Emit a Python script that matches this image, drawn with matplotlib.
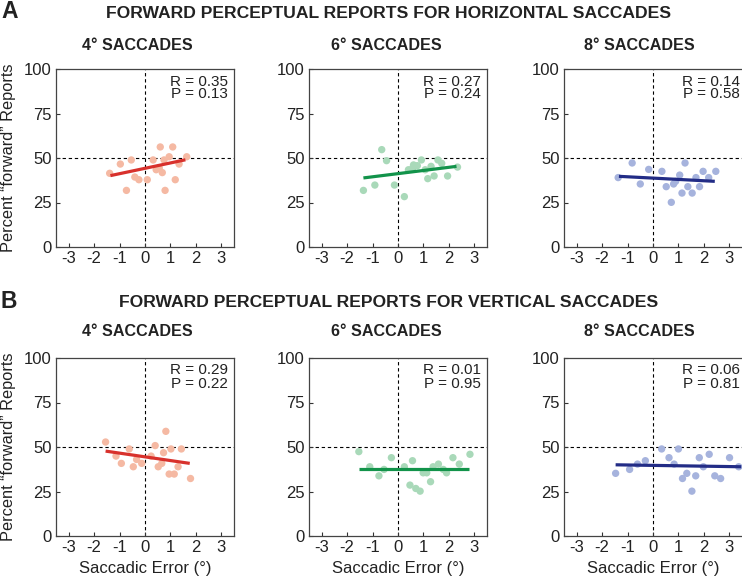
import numpy as np
import matplotlib
matplotlib.use("Agg")
import matplotlib.pyplot as plt

plt.rcParams["font.family"] = ["Liberation Sans", "DejaVu Sans"]
plt.rcParams["axes.unicode_minus"] = False

# saccadic error (deg) and percent "forward" reports
h4_x = [-1.39, -0.97, -0.54, -0.73, -0.40, -0.24, 0.09, 0.32, 0.44, 0.56, 0.60,
        0.68, 0.79, 0.75, 0.95, 1.09, 1.19, 1.34, 1.64]
h4_y = [41.4, 46.6, 48.9, 31.8, 39.3, 37.8, 37.8, 48.9, 43.4, 44.4, 56.2,
        41.8, 31.8, 48.9, 50.7, 56.2, 37.8, 46.6, 50.7]
h6_x = [-1.36, -0.91, -0.64, -0.45, -0.14, 0.25, 0.41, 0.57, 0.61, 0.76, 0.92,
        1.07, 1.17, 1.30, 1.42, 1.57, 1.72, 1.95, 2.34]
h6_y = [31.8, 34.8, 54.7, 48.5, 34.8, 28.3, 43.4, 44.2, 46.1, 45.7, 48.9,
        43.4, 38.4, 45.3, 39.9, 48.9, 47.0, 39.9, 44.9]
h8_x = [-1.37, -0.82, -0.50, -0.17, 0.35, 0.52, 0.72, 0.81, 0.89, 1.05, 1.14,
        1.26, 1.37, 1.54, 1.69, 1.83, 1.97, 2.19, 2.47]
h8_y = [39.0, 47.2, 35.4, 43.6, 42.5, 33.9, 25.1, 35.4, 36.9, 40.4, 30.3,
        47.2, 33.9, 30.3, 39.0, 33.9, 42.5, 39.0, 42.5]
v4_x = [-1.55, -1.14, -0.93, -0.62, -0.46, -0.33, -0.13, 0.24, 0.40, 0.52, 0.66,
        0.82, 0.73, 0.95, 1.02, 1.15, 1.30, 1.43, 1.79]
v4_y = [52.8, 44.9, 40.8, 48.9, 38.9, 43.0, 40.8, 44.9, 50.8, 38.9, 40.8,
        58.8, 46.8, 34.8, 48.9, 34.8, 38.9, 48.9, 32.3]
v6_x = [-1.54, -1.11, -0.75, -0.55, -0.26, 0.25, 0.47, 0.57, 0.70, 0.87, 0.99,
        1.13, 1.28, 1.38, 1.59, 1.78, 1.91, 2.16, 2.41, 2.83]
v6_y = [47.4, 38.9, 33.8, 37.4, 44.0, 38.9, 28.6, 42.3, 26.7, 25.2, 35.5,
        35.5, 30.5, 38.9, 40.4, 37.4, 35.5, 44.0, 40.4, 45.9]
v8_x = [-1.47, -0.92, -0.61, -0.30, 0.34, 0.63, 0.83, 1.00, 1.16, 1.33, 1.53,
        1.68, 1.82, 1.98, 2.21, 2.43, 2.66, 3.01, 3.37]
v8_y = [35.2, 37.4, 40.4, 42.3, 48.9, 44.0, 40.4, 48.9, 32.3, 35.2, 25.2,
        33.8, 44.0, 38.9, 45.9, 33.8, 32.3, 44.0, 38.9]

# regression line end points
h4_fit = ([-1.36, 1.59], [40.1, 49.0])
h6_fit = ([-1.36, 2.30], [38.8, 45.3])
h8_fit = ([-1.34, 2.43], [39.7, 36.9])
v4_fit = ([-1.55, 1.76], [47.7, 40.8])
v6_fit = ([-1.54, 2.80], [37.4, 37.4])
v8_fit = ([-1.47, 3.47], [40.0, 38.9])

stats = [["R = 0.35", "P = 0.13"], ["R = 0.27", "P = 0.24"], ["R = 0.14", "P = 0.58"],
         ["R = 0.29", "P = 0.22"], ["R = 0.01", "P = 0.95"], ["R = 0.06", "P = 0.81"]]
subtitles = ["4° SACCADES", "6° SACCADES", "8° SACCADES"]
row_titles = ["FORWARD PERCEPTUAL REPORTS FOR HORIZONTAL SACCADES",
              "FORWARD PERCEPTUAL REPORTS FOR VERTICAL SACCADES"]
row_letters = ["A", "B"]

dot_colors = ["#f5b9a3", "#a9d9b9", "#a6b3dd"]
line_colors = ["#d8312c", "#12934a", "#222c86"]

panels = [(h4_x, h4_y, h4_fit), (h6_x, h6_y, h6_fit), (h8_x, h8_y, h8_fit),
          (v4_x, v4_y, v4_fit), (v6_x, v6_y, v6_fit), (v8_x, v8_y, v8_fit)]

W, H = 742, 581
fig = plt.figure(figsize=(W / 100, H / 100), dpi=100)

col_left = [56, 309, 564]
row_top = [69, 358]
size = 178
fs = 12

for i, (xs, ys, fit) in enumerate(panels):
    r, c = divmod(i, 3)
    w = size + (4 if c == 2 else 0)  # rightmost column runs off the image edge
    ax = fig.add_axes([col_left[c] / W, 1 - (row_top[r] + size) / H, w / W, size / H])
    ax.axvline(0, color="black", lw=0.8, ls=(0, (3, 2.5)), zorder=1)
    ax.axhline(50, color="black", lw=0.8, ls=(0, (3, 2.5)), zorder=1)
    ax.scatter(xs, ys, s=28, color=dot_colors[c], edgecolors="none", zorder=2)
    ax.plot(fit[0], fit[1], color=line_colors[c], lw=2.3, solid_capstyle="butt", zorder=3)
    ax.set_xlim(-3.5, 3.5 + (4 / size) * 7 if c == 2 else 3.5)
    ax.set_ylim(0, 100)
    ax.set_xticks([-3, -2, -1, 0, 1, 2, 3])
    ax.set_yticks([0, 25, 50, 75, 100])
    ax.tick_params(direction="in", length=3, width=0.8, labelsize=fs,
                   colors="#333333", labelcolor="#222222", pad=3)
    for sp in ax.spines.values():
        sp.set_color("#444444")
        sp.set_linewidth(0.9)
    x_txt = 1 - 6 / w
    ax.text(x_txt, 1 - 12.5 / size, stats[i][0], transform=ax.transAxes,
            ha="right", va="center", fontsize=11, color="#222222")
    ax.text(x_txt, 1 - 25.5 / size, stats[i][1], transform=ax.transAxes,
            ha="right", va="center", fontsize=11, color="#222222")
    if c == 0:
        fig.text(9 / W, 1 - (row_top[r] + size / 2) / H, "Percent \u201cforward\u201d Reports",
                 rotation=90, ha="center", va="center", fontsize=11.8, color="#222222")
    if r == 1:
        fig.text((col_left[c] + size / 2) / W, 1 - 568 / H, "Saccadic Error (°)",
                 ha="center", va="center", fontsize=fs, color="#222222")

sub_x = [137, 386, 639]
for r in range(2):
    ty = [13, 302][r]
    fig.text(1 / W, 1 - (ty - 1) / H, row_letters[r], fontsize=16.5, fontweight="bold",
             ha="left", va="center", color="#222222")
    fig.text(389 / W, 1 - (ty + 1) / H, row_titles[r], fontsize=12.6, fontweight="bold",
             ha="center", va="center", color="#222222")
    sy = [45, 332][r]
    for c in range(3):
        fig.text(sub_x[c] / W, 1 - sy / H, subtitles[c], fontsize=11.6, fontweight="bold",
                 ha="center", va="center", color="#222222")

fig.savefig("out.png", dpi=100)
